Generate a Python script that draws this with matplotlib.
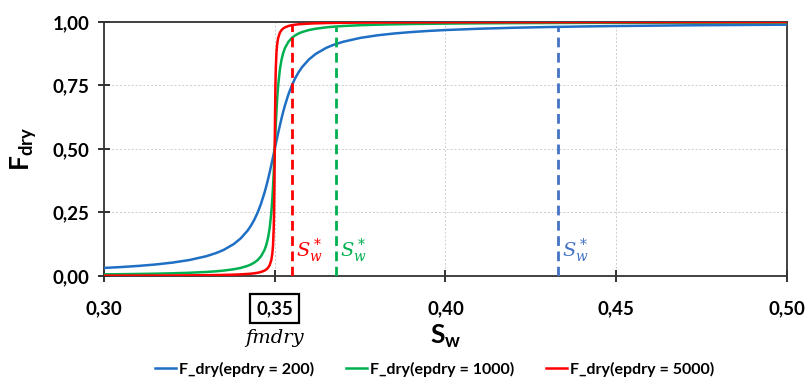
import matplotlib
matplotlib.use("Agg")
import matplotlib.pyplot as plt

plt.rcParams['font.family'] = ['Lato', 'DejaVu Sans']
plt.rcParams['mathtext.fontset'] = 'dejavuserif'

sw = [0.300, 0.305, 0.310, 0.315, 0.320, 0.325, 0.330, 0.333, 0.335, 0.338, 0.340, 0.342,
      0.343, 0.344, 0.345, 0.346, 0.347, 0.3475, 0.348, 0.3485, 0.349, 0.3493, 0.3495,
      0.3497, 0.3498, 0.3499,
      0.350,
      0.3501, 0.3502, 0.3503, 0.3505, 0.3507, 0.351, 0.3515, 0.352, 0.3525, 0.353, 0.354,
      0.355, 0.356, 0.357, 0.358, 0.360, 0.362, 0.365, 0.367, 0.370, 0.375, 0.380, 0.385,
      0.390, 0.395, 0.400,
      0.41, 0.42, 0.43, 0.44, 0.45, 0.47, 0.50]

f_200 = [0.0317, 0.0352, 0.0396, 0.0452, 0.0526, 0.0628, 0.0780, 0.0911, 0.1024, 0.1257,
         0.1476, 0.1778, 0.1974, 0.2211, 0.2500, 0.2852, 0.3280, 0.3524, 0.3789, 0.4072,
         0.4372, 0.4557, 0.4683, 0.4809, 0.4873, 0.4936,
         0.5000,
         0.5064, 0.5127, 0.5191, 0.5317, 0.5443, 0.5628, 0.5928, 0.6211, 0.6476, 0.6720,
         0.7148, 0.7500, 0.7789, 0.8026, 0.8222, 0.8524, 0.8743, 0.8976, 0.9090, 0.9220,
         0.9372, 0.9474, 0.9548, 0.9604, 0.9648, 0.9683,
         0.9735, 0.9773, 0.9801, 0.9823, 0.9841, 0.9868, 0.9894]

f_1000 = [0.0064, 0.0071, 0.0080, 0.0091, 0.0106, 0.0127, 0.0159, 0.0187, 0.0212, 0.0265,
          0.0317, 0.0396, 0.0452, 0.0526, 0.0628, 0.0780, 0.1024, 0.1211, 0.1476, 0.1872,
          0.2500, 0.3056, 0.3524, 0.4072, 0.4372, 0.4683,
          0.5000,
          0.5317, 0.5628, 0.5928, 0.6476, 0.6944, 0.7500, 0.8128, 0.8524, 0.8789, 0.8976,
          0.9220, 0.9372, 0.9474, 0.9548, 0.9604, 0.9683, 0.9735, 0.9788, 0.9813, 0.9841,
          0.9873, 0.9894, 0.9909, 0.9920, 0.9929, 0.9936,
          0.9947, 0.9955, 0.9960, 0.9965, 0.9968, 0.9974, 0.9979]

f_5000 = [0.0013, 0.0014, 0.0016, 0.0018, 0.0021, 0.0025, 0.0032, 0.0037, 0.0042, 0.0053,
          0.0064, 0.0080, 0.0091, 0.0106, 0.0127, 0.0159, 0.0212, 0.0254, 0.0317, 0.0422,
          0.0628, 0.0886, 0.1211, 0.1872, 0.2500, 0.3524,
          0.5000,
          0.6476, 0.7500, 0.8128, 0.8789, 0.9114, 0.9372, 0.9578, 0.9683, 0.9746, 0.9788,
          0.9841, 0.9873, 0.9894, 0.9909, 0.9920, 0.9936, 0.9947, 0.9958, 0.9963, 0.9968,
          0.9975, 0.9979, 0.9982, 0.9984, 0.9986, 0.9987,
          0.9989, 0.9991, 0.9992, 0.9993, 0.9994, 0.9995, 0.9996]

series_labels = ['F_dry(epdry = 200)', 'F_dry(epdry = 1000)', 'F_dry(epdry = 5000)']
sw_star = [0.433, 0.368, 0.355]
f_star = [0.981, 0.982, 0.987]
fmdry = 0.35

xticks = [0.30, 0.35, 0.40, 0.45, 0.50]
xtick_labels = ['0,30', '0,35', '0,40', '0,45', '0,50']
yticks = [0.0, 0.25, 0.5, 0.75, 1.0]
ytick_labels = ['0,00', '0,25', '0,50', '0,75', '1,00']

colors = ['#1f6fc5', '#00b050', '#ff0000']
dash_colors = ['#4472c4', '#00b050', '#ff0000']

fig = plt.figure(figsize=(8.08, 3.83), dpi=100)
ax = fig.add_axes([0.1287, 0.2794, 0.8453, 0.6632])

for y, c, lab in zip([f_200, f_1000, f_5000], colors, series_labels):
    ax.plot(sw, y, color=c, lw=1.8, label=lab, zorder=3)

for xs, fs, c in zip(sw_star, f_star, dash_colors):
    ax.plot([xs, xs], [0, fs], color=c, lw=2.0, ls=(0, (3.5, 2)), zorder=4)
    ax.text(xs + 0.0012, 0.10, r'$S_w^*$', color=c, fontsize=14, ha='left', va='center')

ax.set_xlim(0.30, 0.50)
ax.set_ylim(0, 1.0)
ax.set_xticks(xticks)
ax.set_xticklabels(xtick_labels)
ax.set_yticks(yticks)
ax.set_yticklabels(ytick_labels)
ax.grid(True, color='#cccccc', ls=(0, (2, 2)), lw=0.7)
ax.tick_params(axis='both', direction='inout', length=9, width=1.3, colors='#222222',
               labelsize=13.5, labelcolor='black')
ax.tick_params(axis='x', pad=13)
ax.tick_params(axis='y', pad=6)
for lbl in ax.get_xticklabels() + ax.get_yticklabels():
    lbl.set_fontweight('bold')
for s in ax.spines.values():
    s.set_color('#333333')
    s.set_linewidth(1.3)

ax.get_xticklabels()[1].set_bbox(dict(facecolor='white', edgecolor='black', lw=1.6,
                                       boxstyle='square,pad=0.32'))

ax.text(fmdry, -0.245, 'fmdry', fontsize=14, style='italic', family='DejaVu Serif',
        ha='center', va='center', transform=ax.transData, clip_on=False)

ax.set_ylabel(r'F$_{\mathregular{dry}}$', fontsize=19, fontweight='bold', labelpad=10)
ax.set_xlabel(r'S$_{\mathregular{w}}$', fontsize=19, fontweight='bold', labelpad=4)

leg = fig.legend(loc='lower center', bbox_to_anchor=(0.538, -0.022), ncol=3, frameon=False,
                 fontsize=11.5, handlelength=1.3, handletextpad=0.2, columnspacing=2.0)
for t in leg.get_texts():
    t.set_fontweight('bold')

fig.savefig('out.png', dpi=100)
